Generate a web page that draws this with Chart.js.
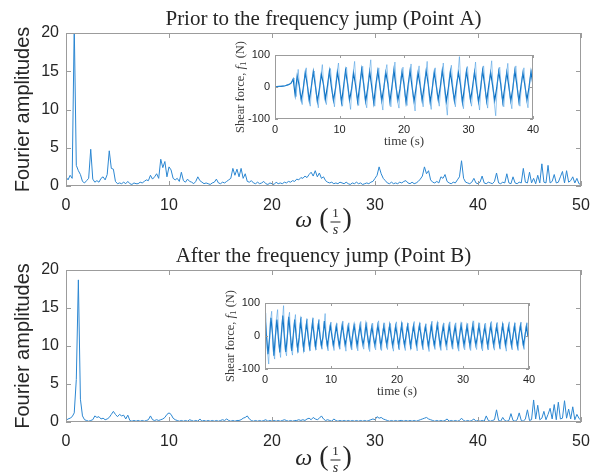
<!DOCTYPE html>
<html>
<head>
<meta charset="utf-8">
<script src="https://cdn.jsdelivr.net/npm/chart.js@4"></script>
<style>
  body { margin: 0; background: #fff; }
  #wrap { position: relative; width: 603px; height: 475px; overflow: hidden; }
  canvas { position: absolute; }
</style>
</head>
<body>
<div id="wrap">
  <canvas id="mainA" width="603" height="237" style="left:0;top:0"></canvas>
  <canvas id="mainB" width="603" height="238" style="left:0;top:237px"></canvas>
  <canvas id="insetA" width="320" height="125" style="left:225px;top:30px"></canvas>
  <canvas id="insetB" width="325" height="125" style="left:215px;top:277px"></canvas>
</div>
<script>
// Fourier spectra, one value every 0.2 (1/s), from 0 to 50
const omegaStep = 0.2;
const spectrumA = [
  1.2, 0.8, 1.4, 1.0, 21, 2.7, 2.0, 1.5, 0.6, 0.4,
  0.7, 1.0, 4.8, 0.9, 0.5, 0.7, 0.5, 1.0, 1.2, 0.8,
  1.5, 4.6, 2.3, 2.2, 0.6, 0.3, 0.4, 0.3, 0.5, 0.3,
  0.6, 0.3, 0.2, 0.4, 0.3, 0.3, 0.5, 0.4, 0.6, 0.8,
  0.7, 1.4, 0.9, 1.2, 1.6, 1.0, 3.5, 2.4, 3.2, 1.2,
  2.5, 2.1, 1.0, 0.8, 1.0, 0.6, 1.8, 0.7, 0.5, 0.9,
  0.6, 0.5, 0.3, 0.6, 1.2, 0.7, 0.5, 0.3, 0.4, 0.3,
  0.2, 0.4, 0.5, 0.9, 0.4, 0.3, 0.5, 0.4, 0.6, 0.8,
  1.0, 2.3, 1.4, 2.2, 1.2, 2.3, 1.0, 1.6, 0.6, 0.5,
  0.7, 0.4, 0.3, 0.5, 0.3, 0.4, 0.6, 0.3, 0.2, 0.4,
  0.3, 0.2, 0.5, 0.3, 0.4, 0.3, 0.5, 0.4, 0.6, 0.5,
  0.7, 0.6, 0.9, 0.8, 1.1, 1.0, 1.3, 1.1, 1.5, 1.8,
  1.3, 2.0, 1.2, 1.7, 1.0, 1.2, 0.7, 0.5, 0.4, 0.5,
  0.3, 0.4, 0.3, 0.5, 0.4, 0.3, 0.5, 0.3, 0.2, 0.4,
  0.3, 0.5, 0.3, 0.4, 0.2, 0.3, 0.4, 0.3, 0.5, 0.6,
  1.0, 1.4, 2.5, 1.6, 1.0, 0.7, 0.4, 0.3, 0.5, 0.3,
  0.4, 0.3, 0.5, 0.4, 0.6, 0.7, 0.4, 0.3, 0.5, 0.3,
  0.4, 0.6, 0.9, 1.3, 2.5, 1.6, 2.0, 0.8, 0.5, 0.4,
  0.6, 0.4, 1.2, 1.0, 1.5, 0.6, 0.4, 0.3, 0.5, 0.4,
  0.8, 1.2, 3.3, 1.0, 0.5, 0.4, 0.3, 0.5, 1.0, 0.4,
  0.3, 0.5, 1.3, 0.4, 0.3, 0.5, 0.4, 0.3, 0.6, 1.7,
  0.4, 0.3, 0.5, 0.4, 1.6, 0.4, 0.3, 1.2, 0.4, 0.3,
  0.5, 0.4, 2.3, 0.5, 0.4, 1.8, 0.4, 1.0, 0.3, 1.4,
  0.4, 2.9, 0.5, 0.4, 2.7, 0.4, 0.6, 1.5, 0.4, 0.5,
  1.2, 1.9, 0.4, 2.0, 0.5, 0.7, 1.2, 0.4, 1.0, 0.3,
  0.2
];
const spectrumB = [
  0.2, 0.4, 0.5, 0.7, 1.2, 5.6, 18.7, 3.0, 0.8, 0.3,
  0.2, 0.1, 0.2, 0.3, 0.8, 0.6, 0.7, 0.4, 0.5, 0.3,
  0.4, 0.6, 1.0, 1.4, 1.0, 0.7, 1.0, 0.8, 0.9, 0.4,
  0.9, 0.2, 0.1, 0.2, 0.1, 0.2, 0.1, 0.2, 0.1, 0.2,
  0.3, 0.8, 0.3, 0.2, 0.3, 0.2, 0.3, 0.4, 0.6, 1.0,
  1.2, 1.0, 0.5, 0.3, 0.2, 0.1, 0.2, 0.1, 0.2, 0.1,
  0.3, 0.2, 0.1, 0.2, 0.1, 0.4, 0.1, 0.2, 0.1, 0.2,
  0.1, 0.2, 0.1, 0.2, 0.1, 0.2, 0.3, 0.2, 0.4, 0.2,
  0.1, 0.2, 0.1, 0.2, 0.2, 0.3, 0.5, 0.6, 0.8, 0.4,
  0.2, 0.1, 0.2, 0.1, 0.2, 0.1, 0.2, 0.3, 0.1, 0.2,
  0.1, 0.2, 0.1, 0.2, 0.1, 0.2, 0.3, 0.2, 0.1, 0.2,
  0.1, 0.2, 0.2, 0.3, 0.2, 0.3, 0.2, 0.4, 0.5, 0.3,
  0.6, 0.4, 0.3, 0.5, 0.8, 0.4, 0.2, 0.3, 0.2, 0.1,
  0.4, 0.2, 0.1, 0.2, 0.1, 0.2, 0.1, 0.2, 0.1, 0.2,
  0.1, 0.2, 0.1, 0.2, 0.1, 0.2, 0.1, 0.2, 0.3, 0.4,
  0.3, 0.7, 0.5, 0.6, 0.4, 0.3, 0.2, 0.1, 0.2, 0.1,
  0.2, 0.1, 0.2, 0.2, 0.1, 0.2, 0.1, 0.2, 0.1, 0.2,
  0.1, 0.2, 0.3, 0.4, 0.5, 0.6, 0.4, 0.3, 0.2, 0.1,
  0.2, 0.1, 0.2, 0.1, 0.2, 0.4, 0.1, 0.2, 0.1, 0.2,
  0.1, 0.2, 0.5, 0.2, 0.1, 0.2, 0.1, 0.2, 0.4, 0.1,
  0.2, 0.1, 0.2, 0.1, 0.8, 0.2, 0.1, 0.2, 0.3, 1.6,
  0.2, 0.1, 0.6, 0.2, 0.1, 0.2, 1.1, 0.2, 0.1, 0.3,
  1.2, 0.2, 0.1, 0.4, 1.6, 0.2, 0.3, 2.9, 0.4, 2.2,
  0.3, 0.5, 1.4, 0.3, 1.0, 1.8, 0.4, 2.3, 0.3, 2.6,
  0.4, 0.5, 2.8, 0.5, 1.7, 0.4, 2.0, 0.3, 1.0, 0.5,
  0.2
];

// shear force time histories (N): a core trace and a lighter spread trace
const timeStepA = 0.3125;
const shearCoreA = [
  0, 1, 2, 2, 3, 4, 6, 8, 12, 25, -25,
  35, 5, -40, -5,   45, 8, -42, 0,    48, 5, -45, -8,   40, 10, -38, 2,
  50, 0, -42, -5,   46, 6, -48, 0,    52, 10, -40, -6,  44, 4, -46, 2,
  55, 8, -44, -4,   48, 0, -50, 5,    50, 6, -42, -2,   45, 10, -46, 0,
  53, 2, -40, -6,   47, 8, -48, 4,    51, 0, -44, -3,   44, 6, -42, 2,
  50, 10, -47, -5,  46, 4, -40, 0,    52, 6, -45, -4,   48, 2, -43, 3,
  45, 8, -48, -2,   50, 5, -41, 0,    47, 0, -46, -5,   52, 7, -44, 2,
  45, 3, -42, -3,   49, 8, -47, 0,    46, 2, -43, -4,   51, 6, -45, 1,
  44, 4, -40, -2,   48, 5
];
const shearSpreadA = [
  0, 1, 2, 3, 3, 5, 7, 10, 18, 28, -30,
  55, -25, -55, 20,  60, -30, -60, 30,  50, -20, -65, 25,  70, -35, -55, 20,
  58, -15, -62, 35,  75, -30, -60, 20,  62, -25, -70, 30,  80, -20, -58, 25,
  65, -35, -65, 30,  85, -25, -60, 20,  60, -30, -72, 35,  70, -20, -62, 25,
  78, -35, -66, 30,  62, -25, -58, 20,  72, -30, -75, 35,  66, -20, -62, 25,
  80, -30, -70, 30,  60, -25, -60, 20,  75, -35, -88, 30,  68, -20, -62, 25,
  95, -30, -68, 35,  64, -25, -60, 20,  78, -30, -72, 30,  66, -20, -66, 25,
  82, -35, -90, 30,  62, -25, -62, 20,  74, -30, -68, 35,  66, -20, -60, 25,
  60, -30, -65, 25, 55
];
const timeStepB = 0.225;
const shearCoreB = [
  60, 0, -55, -10,  55, 10, -60, 0,   50, -5, -50, 5,   62, 0, -48, -5,
  58, 8, -45, 0,    50, 0, -40, -5,   45, 5, -38, 0,    40, 0, -35, -2,
  42, 5, -32, 0,    38, 2, -30, -3,   45, 0, -30, 2,
  32, 2, -28, -2,   30, 0, -30, 0,    34, 4, -27, -3,   29, -2, -31, 2,
  33, 3, -29, 0,    31, 0, -26, -4,   35, 2, -30, 1,    28, -3, -28, 0,
  32, 4, -31, -2,   30, 1, -27, 2,    33, 0, -29, -3,   29, 3, -30, 0,
  34, -2, -28, 2,   31, 2, -32, -1,   30, 0, -27, 3,    33, 4, -29, 0,
  28, 1, -31, -2,   32, -1, -28, 1,   35, 3, -30, 0,    30, 0, -26, -3,
  31, 2, -29, 2,    29, -2, -31, 0,   33, 4, -28, -2,   30, 1, -30, 1,
  34, 0, -27, -3,   31, 3, -29, 0,    28, -1, -31, 2,   32, 2, -28, 0,
  30, 0, -30, -2,   33, 4, -27, 1,    29, 1, -29, 0,    31, -2, -31, 2,
  32, 2, -28, -1,   30, 0
];
const shearSpreadB = [
  70, -40, -85, 40,  75, -45, -70, 45,  80, -30, -65, 35,  92, -40, -60, 45,
  72, -35, -58, 30,  65, -30, -50, 35,  58, -28, -48, 30,  52, -25, -45, 25,
  55, -30, -42, 30,  50, -25, -40, 25,  68, -22, -45, 28,
  42, -18, -44, 24,  38, -22, -40, 20,  45, -20, -46, 26,  40, -16, -42, 22,
  37, -24, -45, 20,  44, -20, -40, 25,  41, -18, -47, 22,  39, -22, -42, 24,
  46, -20, -44, 20,  40, -17, -41, 26,  38, -23, -46, 22,  43, -19, -42, 20,
  41, -21, -44, 25,  39, -18, -40, 22,  44, -22, -45, 24,  40, -20, -42, 20,
  37, -17, -47, 26,  45, -21, -41, 22,  42, -19, -44, 20,  39, -23, -43, 25,
  43, -18, -40, 22,  40, -20, -46, 24,  41, -22, -42, 20,  38, -19, -44, 26,
  46, -21, -41, 22,  40, -18, -45, 20,  39, -22, -42, 24,  44, -20, -43, 22,
  41, -17, -40, 25,  38, -23, -46, 20,  43, -20, -42, 24,  40, -19, -44, 22,
  42, -21, -41, 20,  40, -20
];

// tick labels
const omegaTicks = [0, 10, 20, 30, 40, 50];
const ampTicks = [0, 5, 10, 15, 20];
const timeTicks = [0, 10, 20, 30, 40];
const forceTicks = [-100, 0, 100];

const SANS = '"Liberation Sans", Arial, sans-serif';
const SERIF = '"Liberation Serif", "Times New Roman", serif';
const AXIS_GRAY = '#9c9c9c';
const TEXT_DARK = '#262626';

function toPoints(values, step, offset) {
  return values.map((v, i) => ({ x: offset + i * step, y: v }));
}

function drawRuns(ctx, runs, cx, cy, rotate) {
  ctx.save();
  ctx.translate(cx, cy);
  if (rotate) ctx.rotate(-Math.PI / 2);
  ctx.textBaseline = 'middle';
  ctx.textAlign = 'left';
  let total = 0;
  runs.forEach(r => { ctx.font = r.font; total += ctx.measureText(r.text).width; });
  let x = -total / 2;
  runs.forEach(r => {
    ctx.font = r.font;
    ctx.fillText(r.text, x, r.dy || 0);
    x += ctx.measureText(r.text).width;
  });
  ctx.restore();
}

// MATLAB-like box, inward ticks on all sides, titles and axis labels
const matlabFrame = {
  id: 'matlabFrame',
  afterDraw(chart, args, opts) {
    const ctx = chart.ctx;
    const a = chart.chartArea;
    const xs = chart.scales.x, ys = chart.scales.y;
    ctx.save();
    ctx.strokeStyle = AXIS_GRAY;
    ctx.lineWidth = 1;
    ctx.strokeRect(a.left + 0.5, a.top + 0.5, a.right - a.left - 1, a.bottom - a.top - 1);
    const len = opts.tickLen;
    ctx.beginPath();
    xs.ticks.forEach(t => {
      const px = Math.round(xs.getPixelForValue(t.value)) + 0.5;
      ctx.moveTo(px, a.bottom); ctx.lineTo(px, a.bottom - len);
      ctx.moveTo(px, a.top); ctx.lineTo(px, a.top + len);
    });
    ys.ticks.forEach(t => {
      const py = Math.round(ys.getPixelForValue(t.value)) + 0.5;
      ctx.moveTo(a.left, py); ctx.lineTo(a.left + len, py);
      ctx.moveTo(a.right, py); ctx.lineTo(a.right - len, py);
    });
    ctx.stroke();

    ctx.fillStyle = opts.textColor || TEXT_DARK;
    const cx = (a.left + a.right) / 2;
    const cy = (a.top + a.bottom) / 2;
    if (opts.title) {
      drawRuns(ctx, [{ text: opts.title, font: '21px ' + SERIF }], cx, a.top - opts.titleGap, false);
    }
    if (opts.yLabel) {
      drawRuns(ctx, opts.yLabel, opts.yLabelX, cy, true);
    }
    if (opts.xLabel) {
      drawRuns(ctx, opts.xLabel, cx, a.bottom + opts.xLabelDy, false);
    }
    if (opts.omegaLabel) {
      // ω ( 1/s ) with a stacked fraction
      const y0 = a.bottom + opts.xLabelDy;
      ctx.textBaseline = 'middle';
      ctx.textAlign = 'left';
      ctx.font = 'italic 24px ' + SERIF;
      const wO = ctx.measureText('ω').width;
      ctx.font = '28px ' + SERIF;
      const wP = ctx.measureText('(').width;
      const wF = 10, gap = 7;
      const total = wO + gap + wP + 2 + wF + 2 + wP;
      let x = cx - total / 2;
      ctx.font = 'italic 24px ' + SERIF;
      ctx.fillText('ω', x, y0 - 1);
      x += wO + gap;
      ctx.font = '28px ' + SERIF;
      ctx.fillText('(', x, y0 - 2);
      x += wP + 2;
      ctx.textAlign = 'center';
      ctx.font = '13px ' + SERIF;
      ctx.fillText('1', x + wF / 2, y0 - 8);
      ctx.font = 'italic 14px ' + SERIF;
      ctx.fillText('s', x + wF / 2, y0 + 8);
      ctx.fillRect(x, Math.round(y0) - 0.5, wF, 1);
      ctx.textAlign = 'left';
      x += wF + 2;
      ctx.font = '28px ' + SERIF;
      ctx.fillText(')', x, y0 - 2);
    }
    ctx.restore();
  }
};

function tickFont(size) {
  return { family: SANS, size: size };
}

const noGrid = { display: false, drawTicks: false, tickLength: 0 };

function mainChart(id, values, title, xHeight, labelDy) {
  return new Chart(document.getElementById(id), {
    type: 'line',
    data: {
      datasets: [{
        data: toPoints(values, omegaStep, 0),
        borderColor: '#2c87d2',
        borderWidth: 1,
        pointRadius: 0,
        tension: 0
      }]
    },
    options: {
      responsive: false,
      animation: false,
      events: [],
      devicePixelRatio: 1,
      layout: { padding: { left: 0, top: 33, right: 22, bottom: 0 } },
      plugins: {
        legend: { display: false },
        tooltip: { enabled: false },
        matlabFrame: {
          tickLen: 5,
          title: title,
          titleGap: 14,
          yLabel: [{ text: 'Fourier amplitudes', font: '20px ' + SANS }],
          yLabelX: 23,
          omegaLabel: true,
          xLabelDy: labelDy
        }
      },
      scales: {
        x: {
          type: 'linear', min: 0, max: 50,
          afterBuildTicks: s => { s.ticks = omegaTicks.map(v => ({ value: v })); },
          afterFit: s => { s.height = xHeight; },
          grid: noGrid, border: { display: false },
          ticks: { font: tickFont(16), color: TEXT_DARK, padding: 10, maxRotation: 0 }
        },
        y: {
          type: 'linear', min: 0, max: 20,
          afterBuildTicks: s => { s.ticks = ampTicks.map(v => ({ value: v })); },
          afterFit: s => { s.width = 66; },
          grid: noGrid, border: { display: false },
          ticks: { font: tickFont(16), color: TEXT_DARK, padding: 7 }
        }
      }
    },
    plugins: [matlabFrame]
  });
}

function insetChart(id, core, spread, step, padTop, padRight, xHeight) {
  return new Chart(document.getElementById(id), {
    type: 'line',
    data: {
      datasets: [{
        data: toPoints(spread, step, step / 2),
        borderColor: 'rgba(70, 155, 225, 0.55)',
        borderWidth: 1,
        pointRadius: 0,
        tension: 0
      }, {
        data: toPoints(core, step, 0),
        borderColor: '#0b6fc0',
        borderWidth: 1.2,
        pointRadius: 0,
        tension: 0
      }]
    },
    options: {
      responsive: false,
      animation: false,
      events: [],
      devicePixelRatio: 1,
      layout: { padding: { left: 0, top: padTop, right: padRight, bottom: 0 } },
      plugins: {
        legend: { display: false },
        tooltip: { enabled: false },
        matlabFrame: {
          tickLen: 3,
          yLabel: [
            { text: 'Shear force, ', font: '12.5px ' + SERIF },
            { text: 'f', font: 'italic 12.5px ' + SERIF },
            { text: '1', font: '9px ' + SERIF, dy: 3 },
            { text: ' (N)', font: '12.5px ' + SERIF }
          ],
          yLabelX: 16,
          xLabel: [{ text: 'time (s)', font: '13px ' + SERIF }],
          xLabelDy: 23,
          textColor: '#3a3a3a'
        }
      },
      scales: {
        x: {
          type: 'linear', min: 0, max: 40,
          afterBuildTicks: s => { s.ticks = timeTicks.map(v => ({ value: v })); },
          afterFit: s => { s.height = xHeight; },
          grid: noGrid, border: { display: false },
          ticks: { font: tickFont(11), color: TEXT_DARK, padding: 4, maxRotation: 0 }
        },
        y: {
          type: 'linear', min: -100, max: 100,
          afterBuildTicks: s => { s.ticks = forceTicks.map(v => ({ value: v })); },
          afterFit: s => { s.width = 50; },
          grid: noGrid, border: { display: false },
          ticks: { font: tickFont(11), color: TEXT_DARK, padding: 5 }
        }
      }
    },
    plugins: [matlabFrame]
  });
}

mainChart('mainA', spectrumA, 'Prior to the frequency jump (Point A)', 51, 36);
mainChart('mainB', spectrumB, 'After the frequency jump (Point B)', 53, 38);
insetChart('insetA', shearCoreA, shearSpreadA, timeStepA, 25, 12, 36);
insetChart('insetB', shearCoreB, shearSpreadB, timeStepB, 26, 11, 33);
</script>
</body>
</html>
